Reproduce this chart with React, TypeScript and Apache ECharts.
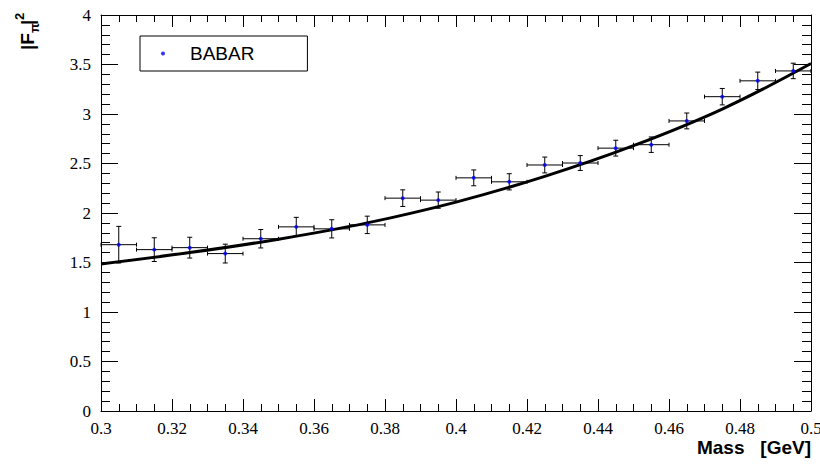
import React, { useEffect, useRef } from "react";
import * as echarts from "echarts";

// Measured |F_pi|^2 points (bin centres in GeV) with their statistical errors
const massBins = [
  0.305, 0.315, 0.325, 0.335, 0.345, 0.355, 0.365, 0.375, 0.385, 0.395,
  0.405, 0.415, 0.425, 0.435, 0.445, 0.455, 0.465, 0.475, 0.485, 0.495,
];
const ffSquared = [
  1.68, 1.63, 1.65, 1.59, 1.74, 1.86, 1.84, 1.88, 2.15, 2.13,
  2.355, 2.315, 2.485, 2.505, 2.655, 2.69, 2.93, 3.175, 3.335, 3.435,
];
const ffErrors = [
  0.185, 0.12, 0.105, 0.095, 0.093, 0.096, 0.092, 0.088, 0.084, 0.082,
  0.08, 0.082, 0.08, 0.075, 0.08, 0.078, 0.08, 0.083, 0.088, 0.078,
];
const binHalfWidth = 0.005;

// Fitted curve
const fitMass = [0.3, 0.325, 0.35, 0.375, 0.4, 0.425, 0.45, 0.475, 0.5];
const fitValues = [1.485, 1.6, 1.735, 1.9, 2.11, 2.37, 2.68, 3.05, 3.51];

const serif = "Liberation Serif";
const sans = "Liberation Sans";

const blackLine = { color: "#000", width: 1 };

// Mass axis: the first instance sits at the bottom with labels, the second
// mirrors it along the top of the frame.
const massAxis = (labels: boolean) => ({
  type: "value",
  min: 0.3,
  max: 0.5,
  interval: 0.02,
  axisLine: { show: true, onZero: false, lineStyle: blackLine },
  axisTick: { show: true, inside: true, length: 12, lineStyle: blackLine },
  minorTick: { show: true, splitNumber: 4, length: 7, lineStyle: blackLine },
  splitLine: { show: false },
  axisLabel: labels
    ? { fontSize: 17, fontFamily: serif, color: "#000", margin: 9 }
    : { show: false },
});

// Form-factor axis: left with labels, mirrored on the right.
const ffAxis = (labels: boolean) => ({
  type: "value",
  min: 0,
  max: 4,
  interval: 0.5,
  axisLine: { show: true, onZero: false, lineStyle: blackLine },
  axisTick: { show: true, inside: true, length: 17, lineStyle: blackLine },
  minorTick: { show: true, splitNumber: 5, length: 9, lineStyle: blackLine },
  splitLine: { show: false },
  axisLabel: labels
    ? { fontSize: 17, fontFamily: serif, color: "#000", margin: 10 }
    : { show: false },
});

function renderErrorBar(_params: any, api: any) {
  const x = api.value(0);
  const y = api.value(1);
  const ey = api.value(2);
  const c = api.coord([x, y]);
  const l = api.coord([x - binHalfWidth, y]);
  const r = api.coord([x + binHalfWidth, y]);
  const t = api.coord([x, y + ey]);
  const b = api.coord([x, y - ey]);
  const style = { stroke: "#000", lineWidth: 1 };
  const cap = 2.5;
  return {
    type: "group",
    children: [
      { type: "line", shape: { x1: l[0], y1: c[1], x2: r[0], y2: c[1] }, style },
      { type: "line", shape: { x1: c[0], y1: t[1], x2: c[0], y2: b[1] }, style },
      { type: "line", shape: { x1: c[0] - cap, y1: t[1], x2: c[0] + cap, y2: t[1] }, style },
      { type: "line", shape: { x1: c[0] - cap, y1: b[1], x2: c[0] + cap, y2: b[1] }, style },
      { type: "line", shape: { x1: l[0], y1: c[1] - 2, x2: l[0], y2: c[1] + 2 }, style },
      { type: "line", shape: { x1: r[0], y1: c[1] - 2, x2: r[0], y2: c[1] + 2 }, style },
    ],
  };
}

export default function App() {
  const ref = useRef<HTMLDivElement>(null);

  useEffect(() => {
    if (!ref.current) return;
    const chart = echarts.init(ref.current, null, { renderer: "svg" });

    const points = massBins.map((m, i) => [m, ffSquared[i]]);
    const bars = massBins.map((m, i) => [m, ffSquared[i], ffErrors[i]]);
    const fit = fitMass.map((m, i) => [m, fitValues[i]]);

    const titlePart = {
      fill: "#000",
      fontFamily: sans,
      fontWeight: "bold",
      align: "left",
      verticalAlign: "middle",
      textAlign: "left",
      textVerticalAlign: "middle",
    };

    chart.setOption({
      animation: false,
      grid: { left: 101, right: 9, top: 15, bottom: 53, outerBoundsMode: "none" },
      xAxis: [massAxis(true), massAxis(false)],
      yAxis: [ffAxis(true), ffAxis(false)],
      legend: {
        data: ["BABAR"],
        left: 140,
        top: 36,
        icon: "circle",
        itemWidth: 4,
        itemHeight: 4,
        padding: [8, 53, 8, 21],
        borderColor: "#000",
        borderWidth: 1,
        borderRadius: 0,
        backgroundColor: "#fff",
        selectedMode: false,
        textStyle: {
          color: "#000",
          fontFamily: sans,
          fontSize: 19,
          lineHeight: 19,
          padding: [0, 0, 0, 20],
        },
      },
      series: [
        {
          type: "custom",
          renderItem: renderErrorBar,
          encode: { x: 0, y: 1 },
          data: bars,
          z: 2,
          silent: true,
        },
        {
          type: "line",
          data: fit,
          smooth: 0.4,
          showSymbol: false,
          symbol: "none",
          lineStyle: { color: "#000", width: 3 },
          z: 3,
          silent: true,
        },
        {
          name: "BABAR",
          type: "scatter",
          data: points,
          symbol: "circle",
          symbolSize: 4,
          itemStyle: { color: "#0000ff" },
          z: 4,
          silent: true,
        },
      ],
      graphic: [
        {
          type: "group",
          x: 27,
          y: 50,
          rotation: Math.PI / 2,
          children: [
            { type: "text", x: 0, y: 0, style: { ...titlePart, text: "|F", fontSize: 19 } },
            { type: "text", x: 17, y: 7, style: { ...titlePart, text: "π", fontSize: 13 } },
            { type: "text", x: 25, y: 0, style: { ...titlePart, text: "|", fontSize: 19 } },
            { type: "text", x: 30, y: -8, style: { ...titlePart, text: "2", fontSize: 13 } },
          ],
        },
        {
          type: "text",
          x: 811,
          y: 447,
          style: {
            text: "Mass   [GeV]",
            fontFamily: sans,
            fontWeight: "bold",
            fontSize: 19,
            fill: "#000",
            align: "right",
            verticalAlign: "middle",
            textAlign: "right",
            textVerticalAlign: "middle",
          },
        },
      ],
    });

    return () => chart.dispose();
  }, []);

  return (
    <div
      ref={ref}
      style={{ position: "fixed", left: 0, top: 0, width: 820, height: 464, background: "#fff" }}
    />
  );
}
